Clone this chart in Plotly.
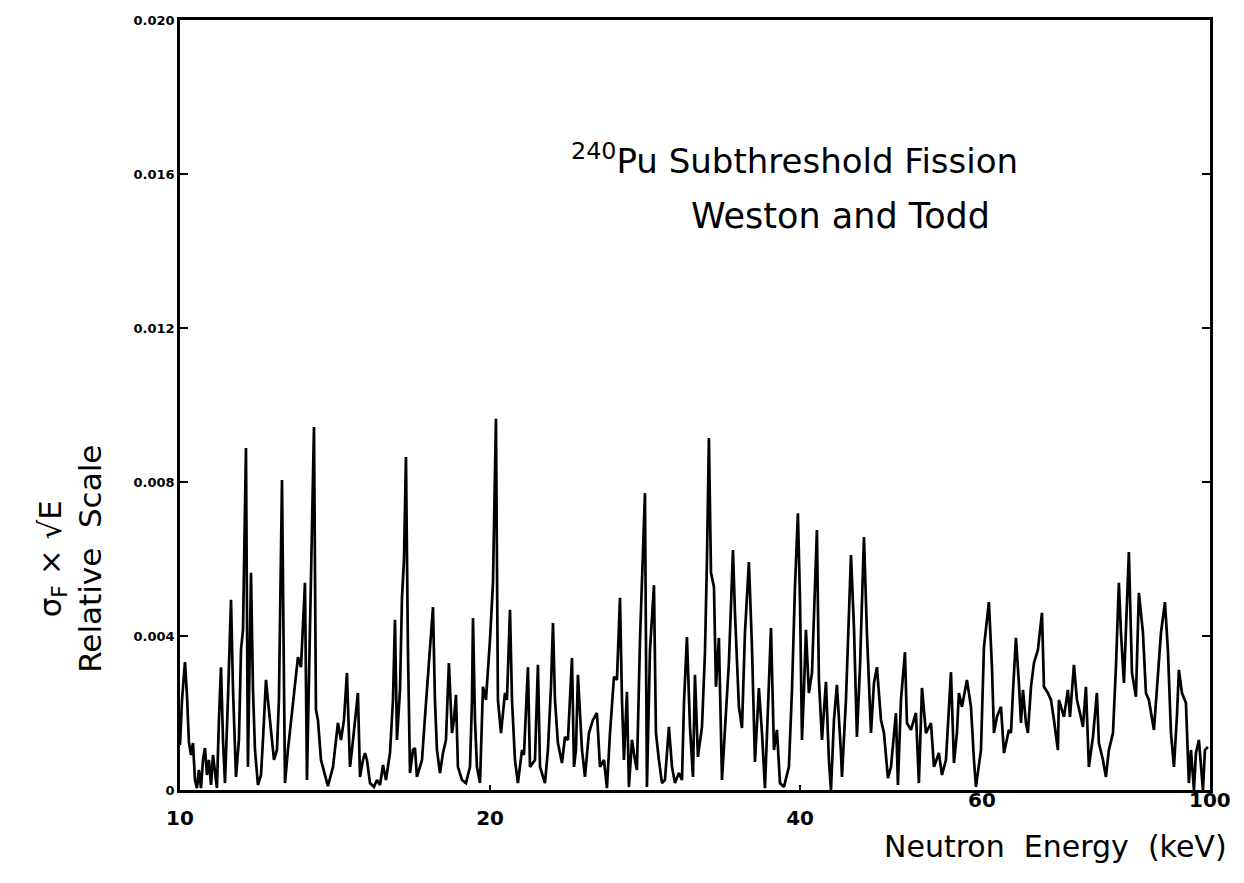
import math
import plotly.graph_objects as go

# Neutron energy (keV) and sigma_F * sqrt(E) (relative scale)
energy_kev = [
    10.000, 10.045, 10.112, 10.157, 10.201, 10.249, 10.295, 10.340, 10.386, 10.431,
    10.481, 10.527, 10.574, 10.621, 10.668, 10.718, 10.765, 10.813, 10.861, 10.909,
    10.960, 11.009, 11.058, 11.131, 11.208, 11.258, 11.333, 11.408, 11.461, 11.512,
    11.589, 11.640, 11.694, 11.720, 11.772, 11.825, 11.903, 11.985, 12.038, 12.119,
    12.172, 12.256, 12.338, 12.420, 12.475, 12.561, 12.645, 12.729, 12.816, 12.874,
    12.959, 13.017, 13.106, 13.165, 13.223, 13.282, 13.340, 13.402, 13.492, 13.552,
    13.612, 13.705, 13.828, 13.919, 14.078, 14.140, 14.234, 14.332, 14.428, 14.524,
    14.623, 14.689, 14.787, 14.885, 14.954, 15.054, 15.121, 15.188, 15.292, 15.429,
    15.531, 15.638, 15.743, 15.847, 15.991, 16.098, 16.170, 16.242, 16.353, 16.426,
    16.499, 16.572, 16.645, 16.722, 16.834, 16.909, 16.984, 17.059, 17.177, 17.292,
    17.406, 17.526, 17.604, 17.682, 17.761, 17.882, 18.002, 18.122, 18.242, 18.368,
    18.450, 18.532, 18.614, 18.784, 18.951, 19.123, 19.208, 19.251, 19.337, 19.422,
    19.555, 19.686, 19.817, 19.997, 20.131, 20.265, 20.355, 20.495, 20.678, 20.769,
    20.911, 21.005, 21.145, 21.285, 21.480, 21.575, 21.767, 21.868, 22.112, 22.259,
    22.362, 22.612, 22.762, 22.918, 23.021, 23.123, 23.276, 23.489, 23.646, 23.803,
    24.020, 24.127, 24.234, 24.341, 24.563, 24.727, 24.946, 25.174, 25.398, 25.572,
    25.800, 25.972, 26.150, 26.384, 26.559, 26.741, 26.860, 26.980, 27.159, 27.279,
    27.468, 27.651, 27.773, 27.964, 28.276, 28.401, 28.596, 28.851, 28.979, 29.171,
    29.373, 29.569, 29.831, 30.037, 30.238, 30.505, 30.716, 30.853, 31.058, 31.270,
    31.480, 31.620, 31.830, 32.120, 32.335, 32.478, 32.621, 32.773, 32.993, 33.139,
    33.358, 33.589, 33.813, 34.112, 34.425, 34.578, 34.884, 35.125, 35.359, 35.672,
    35.919, 36.159, 36.479, 36.731, 36.976, 37.303, 37.478, 37.728, 37.979, 38.239,
    38.581, 39.009, 39.279, 39.541, 39.803, 39.988, 40.167, 40.345, 40.524, 40.792,
    41.075, 41.532, 41.715, 42.003, 42.377, 42.658, 42.857, 43.144, 43.431, 43.826,
    43.924, 44.315, 44.608, 44.816, 45.116, 45.416, 45.727, 46.136, 46.443, 46.866,
    47.179, 47.493, 47.925, 48.246, 48.674, 49.009, 49.555, 49.774, 50.116, 50.564,
    50.787, 51.249, 51.821, 52.164, 52.525, 52.992, 53.593, 53.951, 54.549, 54.926,
    55.415, 56.043, 56.418, 56.793, 57.043, 57.438, 58.077, 58.605, 58.998, 59.259,
    59.930, 60.331, 61.000, 61.422, 61.695, 62.105, 62.670, 63.090, 63.789, 64.087,
    64.373, 64.802, 65.231, 65.536, 65.828, 66.267, 66.559, 67.017, 67.466, 68.064,
    68.685, 68.991, 69.603, 70.082, 70.551, 71.176, 71.332, 72.145, 72.785, 73.122,
    73.776, 74.267, 74.775, 75.277, 75.778, 76.280, 76.979, 77.662, 78.004, 78.719,
    79.243, 79.768, 80.498, 81.035, 81.571, 81.952, 82.501, 83.049, 83.415, 83.992,
    84.740, 85.301, 86.082, 86.655, 87.229, 88.223, 89.005, 89.618, 90.418, 91.017,
    91.644, 92.257, 92.870, 93.279, 93.924, 94.761, 95.388, 95.834, 96.475, 96.903,
    97.544, 98.437, 98.875, 99.531,
]

sigma_f_sqrt_e = [
    0.00117, 0.00234, 0.00332, 0.00247, 0.00125, 0.00091, 0.00122, 0.00026, 0.00005, 0.00052,
    0.00005, 0.00078, 0.00109, 0.00039, 0.00078, 0.00013, 0.00091, 0.00039, 0.00005, 0.00182,
    0.00319, 0.00130, 0.00018, 0.00234, 0.00494, 0.00260, 0.00034, 0.00130, 0.00364, 0.00416,
    0.00888, 0.00060, 0.00364, 0.00564, 0.00260, 0.00104, 0.00013, 0.00039, 0.00130, 0.00286,
    0.00234, 0.00148, 0.00078, 0.00104, 0.00234, 0.00805, 0.00018, 0.00104, 0.00182, 0.00234,
    0.00312, 0.00345, 0.00319, 0.00442, 0.00538, 0.00026, 0.00286, 0.00527, 0.00943, 0.00208,
    0.00182, 0.00078, 0.00034, 0.00010, 0.00060, 0.00104, 0.00174, 0.00130, 0.00182, 0.00304,
    0.00060, 0.00104, 0.00182, 0.00252, 0.00034, 0.00078, 0.00096, 0.00078, 0.00018, 0.00008,
    0.00026, 0.00013, 0.00065, 0.00026, 0.00096, 0.00234, 0.00442, 0.00130, 0.00260, 0.00501,
    0.00597, 0.00865, 0.00371, 0.00044, 0.00104, 0.00109, 0.00034, 0.00052, 0.00078, 0.00190,
    0.00296, 0.00390, 0.00475, 0.00234, 0.00104, 0.00044, 0.00096, 0.00130, 0.00330, 0.00148,
    0.00182, 0.00247, 0.00060, 0.00026, 0.00018, 0.00060, 0.00234, 0.00447, 0.00182, 0.00060,
    0.00018, 0.00268, 0.00234, 0.00390, 0.00538, 0.00964, 0.00234, 0.00148, 0.00252, 0.00234,
    0.00468, 0.00234, 0.00078, 0.00018, 0.00104, 0.00091, 0.00319, 0.00060, 0.00078, 0.00325,
    0.00060, 0.00018, 0.00104, 0.00268, 0.00434, 0.00234, 0.00122, 0.00070, 0.00138, 0.00130,
    0.00343, 0.00060, 0.00104, 0.00299, 0.00104, 0.00034, 0.00148, 0.00182, 0.00200, 0.00060,
    0.00078, 0.00005, 0.00148, 0.00294, 0.00286, 0.00499, 0.00234, 0.00078, 0.00255, 0.00008,
    0.00130, 0.00078, 0.00052, 0.00390, 0.00771, 0.00008, 0.00364, 0.00532, 0.00148, 0.00078,
    0.00018, 0.00026, 0.00164, 0.00060, 0.00018, 0.00044, 0.00026, 0.00226, 0.00397, 0.00164,
    0.00034, 0.00299, 0.00086, 0.00164, 0.00356, 0.00597, 0.00914, 0.00564, 0.00527, 0.00268,
    0.00395, 0.00026, 0.00148, 0.00330, 0.00623, 0.00460, 0.00216, 0.00161, 0.00408, 0.00592,
    0.00371, 0.00073, 0.00265, 0.00148, 0.00005, 0.00252, 0.00421, 0.00104, 0.00156, 0.00018,
    0.00008, 0.00060, 0.00260, 0.00527, 0.00719, 0.00494, 0.00130, 0.00260, 0.00416, 0.00252,
    0.00304, 0.00675, 0.00286, 0.00130, 0.00281, 0.00078, 0.00000, 0.00182, 0.00273, 0.00096,
    0.00034, 0.00234, 0.00449, 0.00610, 0.00423, 0.00138, 0.00319, 0.00657, 0.00408, 0.00148,
    0.00278, 0.00319, 0.00182, 0.00148, 0.00031, 0.00060, 0.00200, 0.00013, 0.00234, 0.00358,
    0.00174, 0.00156, 0.00200, 0.00018, 0.00265, 0.00148, 0.00174, 0.00060, 0.00096, 0.00039,
    0.00078, 0.00306, 0.00070, 0.00148, 0.00252, 0.00216, 0.00286, 0.00216, 0.00078, 0.00008,
    0.00104, 0.00371, 0.00488, 0.00319, 0.00148, 0.00190, 0.00216, 0.00096, 0.00156, 0.00148,
    0.00255, 0.00395, 0.00278, 0.00174, 0.00260, 0.00174, 0.00148, 0.00268, 0.00330, 0.00364,
    0.00460, 0.00268, 0.00252, 0.00234, 0.00182, 0.00104, 0.00234, 0.00190, 0.00260, 0.00190,
    0.00325, 0.00234, 0.00200, 0.00164, 0.00268, 0.00060, 0.00138, 0.00252, 0.00122, 0.00078,
    0.00034, 0.00104, 0.00148, 0.00319, 0.00538, 0.00408, 0.00278, 0.00460, 0.00618, 0.00304,
    0.00242, 0.00512, 0.00408, 0.00252, 0.00234, 0.00156, 0.00304, 0.00408, 0.00488, 0.00364,
    0.00148, 0.00060, 0.00190, 0.00312, 0.00252, 0.00226, 0.00018, 0.00104, 0.00000, 0.00096,
    0.00130, 0.00000, 0.00104, 0.00112,
]

# x tick labels: the first three sit on the axis, the last two are written a little higher
x_tick_vals = [10, 20, 40]
x_tick_text = ["10", "20", "40"]
x_raised_vals = [60, 100]
x_raised_text = ["60", "100"]
y_tick_vals = [0, 0.004, 0.008, 0.012, 0.016, 0.020]
y_tick_text = ["0", "0.004", "0.008", "0.012", "0.016", "0.020"]

title_line1 = "<sup>240</sup>Pu Subthreshold Fission"
title_line2 = "Weston and Todd"
x_title = "Neutron  Energy  (keV)"
y_title = "σ<sub>F</sub> × √E<br>Relative  Scale"

FONT = "DejaVu Sans"

fig = go.Figure()
fig.add_trace(go.Scatter(
    x=energy_kev, y=sigma_f_sqrt_e, mode="lines",
    line=dict(color="black", width=2.7),
    hoverinfo="x+y", showlegend=False,
))

annotations = [
    dict(text=title_line1, xref="paper", yref="paper", x=0.597, y=0.820,
         showarrow=False, xanchor="center", yanchor="middle",
         font=dict(family=FONT, size=34, color="black")),
    dict(text=title_line2, xref="paper", yref="paper", x=0.641, y=0.745,
         showarrow=False, xanchor="center", yanchor="middle",
         font=dict(family=FONT, size=35, color="black")),
    dict(text=x_title, xref="paper", yref="paper", x=0.850, y=-0.074,
         showarrow=False, xanchor="center", yanchor="middle",
         font=dict(family=FONT, size=30, color="black")),
    dict(text=y_title, xref="paper", yref="paper", x=-0.107, y=0.30,
         showarrow=False, xanchor="center", yanchor="middle", textangle=-90,
         font=dict(family=FONT, size=31, color="black")),
]
for v, t in zip(x_raised_vals, x_raised_text):
    annotations.append(dict(
        text=t, xref="x", yref="paper", x=math.log10(v), y=-0.013,
        showarrow=False, xanchor="center", yanchor="middle",
        font=dict(family=FONT, size=20, color="black", weight="bold"),
    ))

fig.update_layout(
    width=1244, height=883,
    margin=dict(l=180, r=34, t=20, b=93),
    paper_bgcolor="white", plot_bgcolor="white",
    font=dict(family=FONT, color="black"),
    xaxis=dict(
        type="log", range=[1, 2],
        tickvals=x_tick_vals, ticktext=x_tick_text,
        ticks="inside", ticklen=5, tickwidth=2, tickcolor="black",
        showline=True, linewidth=2.5, linecolor="black", mirror=True,
        showgrid=False, zeroline=False,
        tickfont=dict(family=FONT, size=20, color="black", weight="bold"),
        ticklabelstandoff=8,
    ),
    yaxis=dict(
        range=[0, 0.020],
        tickvals=y_tick_vals, ticktext=y_tick_text,
        ticks="inside", ticklen=8, tickwidth=2, tickcolor="black",
        showline=True, linewidth=2.5, linecolor="black", mirror="ticks",
        showgrid=False, zeroline=False,
        tickfont=dict(family=FONT, size=13, color="black", weight="bold"),
        ticklabelstandoff=0,
    ),
    annotations=annotations,
)

fig.write_html("out.html")
